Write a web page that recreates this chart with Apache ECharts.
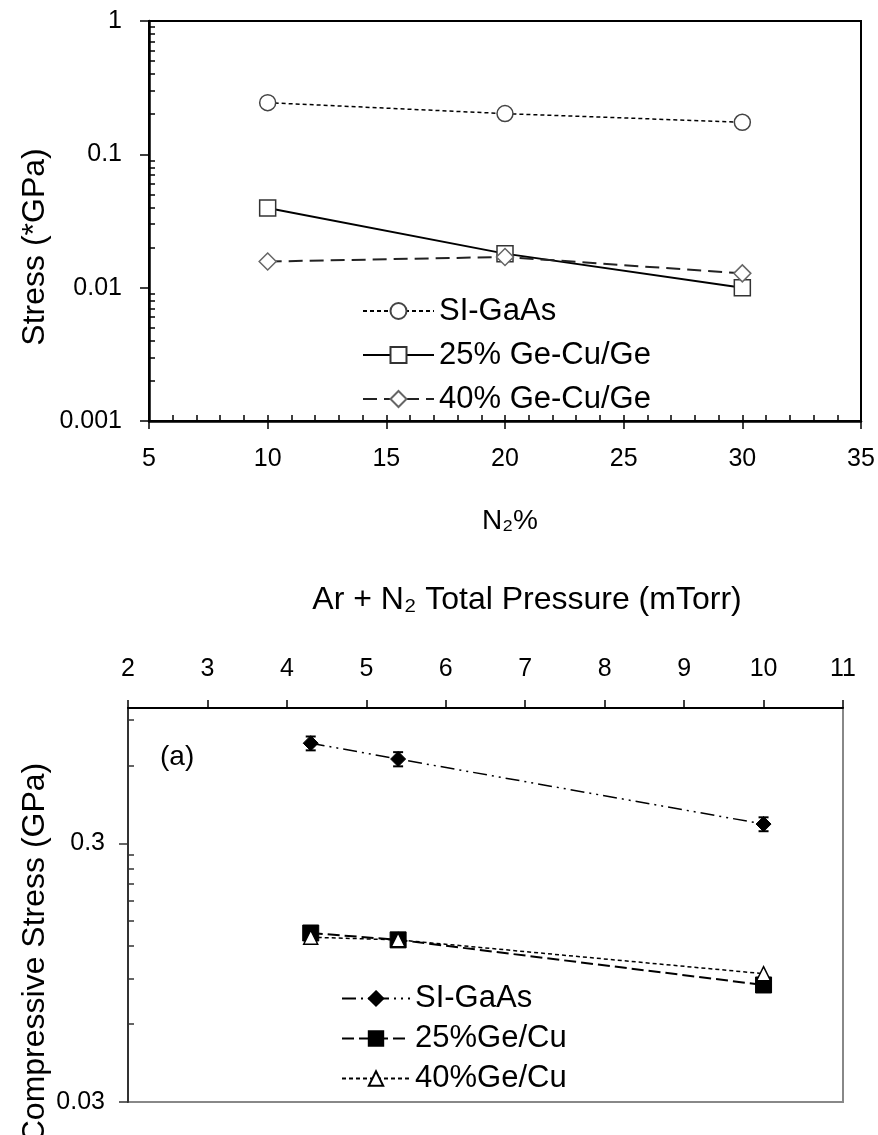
<!DOCTYPE html>
<html>
<head>
<meta charset="utf-8">
<script src="https://cdn.jsdelivr.net/npm/echarts@6/dist/echarts.min.js"></script>
<style>
  html, body { margin: 0; padding: 0; background: #fff; }
  #chart { width: 878px; height: 1135px; }
</style>
</head>
<body>
<div id="chart"></div>
<script>
// top panel: stress vs N2 %
const topX = [10, 20, 30];
const topSI = [0.244, 0.202, 0.174];
const top25 = [0.0396, 0.018, 0.0100];
const top40 = [0.0157, 0.0170, 0.0128];
const topYLabels = [0.001, 0.01, 0.1, 1];

// bottom panel: compressive stress vs total pressure
const botX = [4.3, 5.4, 10];
const botSI = [0.731, 0.635, 0.356];
const botSIErr = [0.045, 0.04, 0.022];
const bot25 = [0.135, 0.127, 0.085];
const bot40 = [0.130, 0.127, 0.094];
const botYLabels = [0.03, 0.3];

const logSteps = [2, 3, 4, 5, 6, 7, 8, 9];
const topYMinor = [];
[0.001, 0.01, 0.1].forEach(d => logSteps.forEach(k => topYMinor.push(+(d * k).toPrecision(3))));
const botYMinor = [];
logSteps.forEach(k => botYMinor.push(+(0.03 * k).toPrecision(3)));
[2, 3].forEach(k => botYMinor.push(+(0.3 * k).toPrecision(3)));

const FONT = 'Liberation Sans, Arial, sans-serif';
const pair = (xs, ys) => xs.map((x, i) => [x, ys[i]]);

const chart = echarts.init(document.getElementById('chart'));

const option = {
  animation: false,
  backgroundColor: '#fff',
  textStyle: { fontFamily: FONT, color: '#000' },
  grid: [
    { left: 149, top: 21, width: 712, height: 400, show: true, borderColor: '#000', borderWidth: 2 },
    { left: 128, top: 708, width: 715, height: 394, show: true, borderColor: '#888', borderWidth: 2 }
  ],
  xAxis: [
    {
      type: 'value', gridIndex: 0, position: 'bottom', min: 5, max: 35, interval: 5,
      axisLine: { lineStyle: { color: '#000', width: 2.5 } },
      axisTick: { length: 8, lineStyle: { color: '#000', width: 1.5 } },
      axisLabel: { fontSize: 25, margin: 26, color: '#000', fontFamily: FONT },
      splitLine: { show: false }
    },
    {
      type: 'value', gridIndex: 0, position: 'bottom', min: 5, max: 35, interval: 5,
      axisLine: { show: false },
      axisTick: { inside: true, length: 6, lineStyle: { color: '#000', width: 1.5 } },
      minorTick: { show: true, splitNumber: 5, length: 6, lineStyle: { color: '#000', width: 1.5 } },
      axisLabel: { show: false },
      splitLine: { show: false }
    },
    {
      type: 'value', gridIndex: 1, position: 'top', min: 2, max: 11, interval: 1,
      axisLine: { lineStyle: { color: '#000', width: 2 } },
      axisTick: { length: 8, lineStyle: { color: '#000', width: 1.5 } },
      axisLabel: { fontSize: 25, margin: 26, color: '#000', fontFamily: FONT },
      splitLine: { show: false }
    }
  ],
  yAxis: [
    {
      type: 'log', logBase: 10, gridIndex: 0, min: 0.001, max: 1,
      axisLine: { show: true, lineStyle: { color: '#000', width: 2.5 } },
      axisTick: { show: true, customValues: topYLabels, length: 9, lineStyle: { color: '#000', width: 1.5 } },
      axisLabel: { customValues: topYLabels, fontSize: 25, margin: 27, color: '#000', fontFamily: FONT, formatter: v => String(v) },
      splitLine: { show: false }
    },
    {
      type: 'log', logBase: 10, gridIndex: 0, min: 0.001, max: 1, position: 'left',
      axisLine: { show: false },
      axisTick: { show: true, inside: true, customValues: topYMinor, length: 6, lineStyle: { color: '#000', width: 1.5 } },
      axisLabel: { show: false },
      splitLine: { show: false }
    },
    {
      type: 'log', logBase: 10, gridIndex: 1, min: 0.03, max: 1,
      axisLine: { show: true, lineStyle: { color: '#333', width: 2 } },
      axisTick: { show: true, customValues: botYLabels, length: 9, lineStyle: { color: '#333', width: 1.5 } },
      axisLabel: { customValues: botYLabels, fontSize: 25, margin: 23, color: '#000', fontFamily: FONT, formatter: v => String(v) },
      splitLine: { show: false }
    },
    {
      type: 'log', logBase: 10, gridIndex: 1, min: 0.03, max: 1, position: 'left',
      axisLine: { show: false },
      axisTick: { show: true, inside: true, customValues: botYMinor, length: 6, lineStyle: { color: '#333', width: 1.5 } },
      axisLabel: { show: false },
      splitLine: { show: false }
    }
  ],
  legend: [
    {
      orient: 'vertical', left: 357, top: 290, itemWidth: 71, itemHeight: 20, itemGap: 12,
      data: ['SI-GaAs', '25% Ge-Cu/Ge', '40% Ge-Cu/Ge'],
      textStyle: { fontSize: 31, lineHeight: 32, color: '#000', fontFamily: FONT },
      selectedMode: false
    },
    {
      orient: 'vertical', left: 336, top: 978, itemWidth: 68, itemHeight: 18, itemGap: 9,
      data: ['SI-GaAs ', '25%Ge/Cu', '40%Ge/Cu'],
      formatter: n => n.trim(),
      textStyle: { fontSize: 31, lineHeight: 30, color: '#000', fontFamily: FONT },
      selectedMode: false
    }
  ],
  graphic: [
    { type: 'text', x: 35, y: 247, rotation: Math.PI / 2,
      style: { text: 'Stress (*GPa)', font: '32px ' + FONT, fill: '#000', align: 'center', verticalAlign: 'middle' } },
    { type: 'text', x: 510, y: 521,
      style: { text: 'N\u2082%', font: '28px ' + FONT, fill: '#000', align: 'center', verticalAlign: 'middle' } },
    { type: 'text', x: 527, y: 600,
      style: { text: 'Ar + N\u2082 Total Pressure (mTorr)', font: '32px ' + FONT, fill: '#000', align: 'center', verticalAlign: 'middle' } },
    { type: 'text', x: 35, y: 953, rotation: Math.PI / 2,
      style: { text: 'Compressive Stress (GPa)', font: '32px ' + FONT, fill: '#000', align: 'center', verticalAlign: 'middle' } },
    { type: 'text', x: 160, y: 757,
      style: { text: '(a)', font: '28px ' + FONT, fill: '#000', align: 'left', verticalAlign: 'middle' } }
  ],
  series: [
    {
      name: 'SI-GaAs', type: 'line', xAxisIndex: 0, yAxisIndex: 0, data: pair(topX, topSI),
      symbol: 'circle', symbolSize: 16,
      itemStyle: { color: '#fff', borderColor: '#444', borderWidth: 1.5 },
      lineStyle: { color: '#000', width: 1.5, type: [4, 3] }
    },
    {
      name: '25% Ge-Cu/Ge', type: 'line', xAxisIndex: 0, yAxisIndex: 0, data: pair(topX, top25),
      symbol: 'rect', symbolSize: 16,
      itemStyle: { color: '#fff', borderColor: '#333', borderWidth: 1.5 },
      lineStyle: { color: '#000', width: 2 }
    },
    {
      name: '40% Ge-Cu/Ge', type: 'line', xAxisIndex: 0, yAxisIndex: 0, data: pair(topX, top40),
      symbol: 'diamond', symbolSize: 17,
      itemStyle: { color: '#fff', borderColor: '#666', borderWidth: 1.5 },
      lineStyle: { color: '#222', width: 2, type: [14, 7] }
    },
    {
      name: 'SI-GaAs ', type: 'line', xAxisIndex: 2, yAxisIndex: 2, data: pair(botX, botSI),
      symbol: 'diamond', symbolSize: 15,
      itemStyle: { color: '#000', borderColor: '#000', borderWidth: 1 },
      lineStyle: { color: '#000', width: 1.5, type: [14, 5, 2, 5, 2, 5] },
      z: 3
    },
    {
      name: 'SI-GaAs err', type: 'custom', xAxisIndex: 2, yAxisIndex: 2,
      data: botX.map((x, i) => [x, botSI[i], botSIErr[i]]),
      encode: { x: 0, y: 1 },
      z: 4,
      renderItem: (params, api) => {
        const x = api.value(0), y = api.value(1), e = api.value(2);
        const hi = api.coord([x, y + e]);
        const lo = api.coord([x, y - e]);
        const st = { stroke: '#000', lineWidth: 2 };
        return {
          type: 'group',
          children: [
            { type: 'line', shape: { x1: hi[0], y1: hi[1], x2: lo[0], y2: lo[1] }, style: st },
            { type: 'line', shape: { x1: hi[0] - 5, y1: hi[1], x2: hi[0] + 5, y2: hi[1] }, style: st },
            { type: 'line', shape: { x1: lo[0] - 5, y1: lo[1], x2: lo[0] + 5, y2: lo[1] }, style: st }
          ]
        };
      }
    },
    {
      name: '25%Ge/Cu', type: 'line', xAxisIndex: 2, yAxisIndex: 2, data: pair(botX, bot25),
      symbol: 'rect', symbolSize: 16,
      itemStyle: { color: '#000', borderColor: '#000', borderWidth: 1 },
      lineStyle: { color: '#000', width: 2, type: [12, 5] }
    },
    {
      name: '40%Ge/Cu', type: 'line', xAxisIndex: 2, yAxisIndex: 2, data: pair(botX, bot40),
      symbol: 'triangle', symbolSize: 14,
      itemStyle: { color: '#fff', borderColor: '#000', borderWidth: 1.5 },
      lineStyle: { color: '#000', width: 1.5, type: [4, 3] }
    }
  ]
};

chart.setOption(option);
</script>
</body>
</html>
